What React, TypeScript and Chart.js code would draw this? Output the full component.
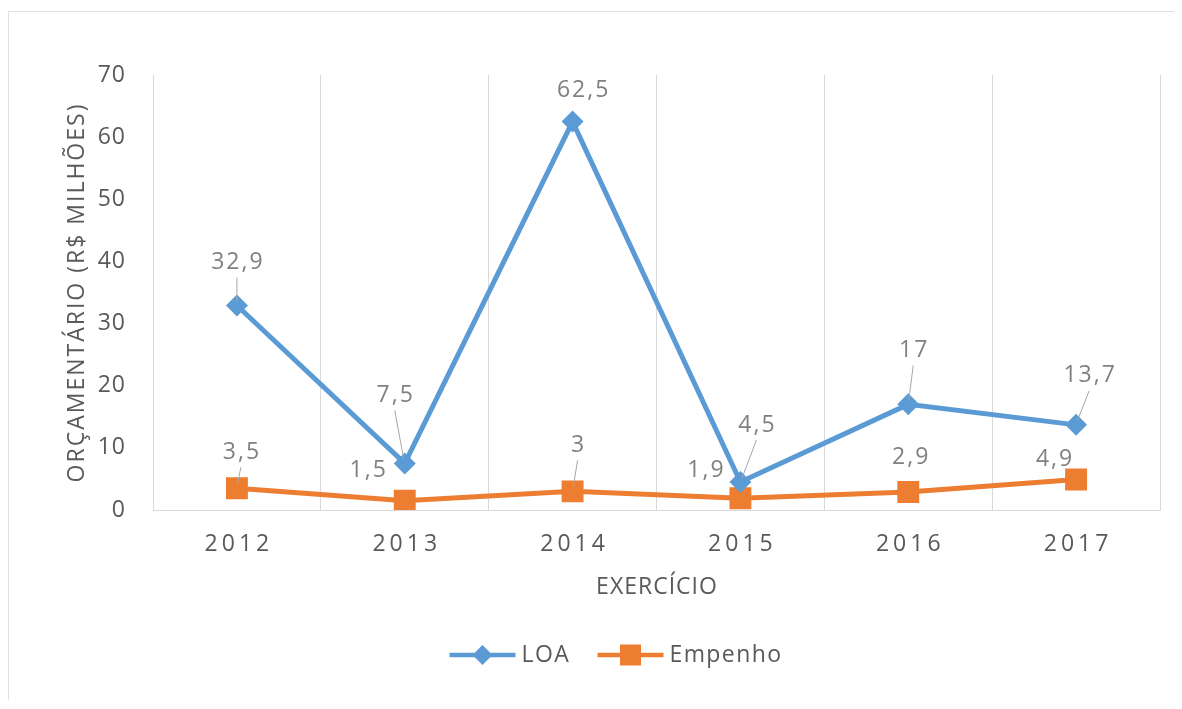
import React, { useEffect, useRef } from 'react';
import { Chart, registerables } from 'chart.js';

Chart.register(...registerables);

const years = ['2012', '2013', '2014', '2015', '2016', '2017'];
const loaValues = [32.9, 7.5, 62.5, 4.5, 17, 13.7];
const empenhoValues = [3.5, 1.5, 3, 1.9, 2.9, 4.9];
const yTicks = [0, 10, 20, 30, 40, 50, 60, 70];
const seriesNames = ['LOA', 'Empenho'];
const yTitle = 'ORÇAMENTÁRIO (R$ MILHÕES)';
const xTitle = 'EXERCÍCIO';

// label placement (dx, dy relative to point, draw leader line)
const loaLabelPos: [number, number, boolean][] = [
  [0, -43, true], [-10, -68, true], [10, -31, false], [16, -57, true], [5, -54, true], [13, -49, true],
];
const empLabelPos: [number, number, boolean][] = [
  [4, -36, true], [-37, -30, false], [5, -46, true], [-35, -28, false], [2, -35, false], [-22, -20, false],
];

const BLUE = '#5b9bd5';
const ORANGE = '#ed7d31';
const TEXT = '#595959';
const LABEL = '#808080';
const GRID = '#d9d9d9';
const FONT = '"Open Sans", sans-serif';
const FS = 23;

const fmt = (v: number) => String(v).replace('.', ',');

function wrap(scale: any, method: string, ls: string, shift: number) {
  const key = '__w_' + method;
  if (scale[key]) return;
  const orig = scale[method];
  scale[method] = function (...args: any[]) {
    const c = this.ctx;
    c.save();
    c.letterSpacing = ls;
    c.translate(shift, 0);
    orig.apply(this, args);
    c.restore();
  };
  scale[key] = true;
}

const labelsPlugin = {
  id: 'pointLabels',
  beforeDraw(chart: any) {
    chart.ctx.letterSpacing = '1.5px';
    const xs = chart.scales.x;
    const ys = chart.scales.y;
    if (xs) {
      wrap(xs, 'drawLabels', '4px', 2);
      wrap(xs, 'drawTitle', '1px', 0.5);
    }
    if (ys) {
      wrap(ys, 'drawTitle', '2px', 0);
      wrap(ys, 'drawLabels', '1px', 0);
    }
  },
  afterDatasetsDraw(chart: any) {
    const ctx = chart.ctx;
    const positions = [loaLabelPos, empLabelPos];
    chart.data.datasets.forEach((ds: any, di: number) => {
      const meta = chart.getDatasetMeta(di);
      meta.data.forEach((pt: any, i: number) => {
        const [dx, dy, leader] = positions[di][i];
        const lx = pt.x + dx;
        const ly = pt.y + dy;
        ctx.save();
        if (leader) {
          ctx.strokeStyle = '#a6a6a6';
          ctx.lineWidth = 1;
          ctx.beginPath();
          ctx.moveTo(lx, ly + 15);
          ctx.lineTo(pt.x + (lx - pt.x) * 0.1, pt.y - 4);
          ctx.stroke();
        }
        ctx.letterSpacing = '2px';
        ctx.font = `${FS}px ${FONT}`;
        ctx.fillStyle = LABEL;
        ctx.textAlign = 'center';
        ctx.textBaseline = 'middle';
        ctx.fillText(fmt(ds.data[i]), lx + 1, ly);
        ctx.restore();
      });
    });
  },
  afterDraw(chart: any) {
    const ctx = chart.ctx;
    const y = 643;
    const start = chart.width / 2 - 146;
    const items = [
      { x: start, color: BLUE, style: 'diamond', text: seriesNames[0] },
      { x: start + 148, color: ORANGE, style: 'square', text: seriesNames[1] },
    ];
    ctx.save();
    items.forEach((it) => {
      ctx.strokeStyle = it.color;
      ctx.lineWidth = 4.5;
      ctx.beginPath();
      ctx.moveTo(it.x, y);
      ctx.lineTo(it.x + 66, y);
      ctx.stroke();
      ctx.fillStyle = it.color;
      const cx = it.x + 33;
      if (it.style === 'diamond') {
        ctx.beginPath();
        ctx.moveTo(cx, y - 10);
        ctx.lineTo(cx + 10, y);
        ctx.lineTo(cx, y + 10);
        ctx.lineTo(cx - 10, y);
        ctx.closePath();
        ctx.fill();
      } else {
        ctx.fillRect(cx - 10.5, y - 10.5, 21, 21);
      }
      ctx.letterSpacing = '1.4px';
      ctx.font = `${FS}px ${FONT}`;
      ctx.fillStyle = TEXT;
      ctx.textAlign = 'left';
      ctx.textBaseline = 'middle';
      ctx.fillText(it.text, it.x + 72, y);
    });
    ctx.restore();
  },
};

export default function App() {
  const ref = useRef<HTMLCanvasElement | null>(null);
  useEffect(() => {
    document.documentElement.style.overflow = 'hidden';
    if (!ref.current) return;
    const chart = new Chart(ref.current, {
      type: 'line',
      data: {
        labels: years,
        datasets: [
          {
            label: seriesNames[0],
            data: loaValues,
            borderColor: BLUE,
            backgroundColor: BLUE,
            borderWidth: 5,
            pointStyle: 'rectRot',
            pointRadius: 11,
            pointHoverRadius: 11,
            pointBorderWidth: 0,
            tension: 0,
          },
          {
            label: seriesNames[1],
            data: empenhoValues,
            borderColor: ORANGE,
            backgroundColor: ORANGE,
            borderWidth: 5,
            pointStyle: 'rect',
            pointRadius: 15.5,
            pointHoverRadius: 15.5,
            pointBorderWidth: 0,
            tension: 0,
          },
        ],
      },
      options: {
        responsive: false,
        animation: false,
        events: [],
        layout: { padding: { left: 0, right: 22, top: 63, bottom: 92 } },
        plugins: {
          legend: { display: false },
          tooltip: { enabled: false },
        },
        scales: {
          x: {
            offset: true,
            grid: { display: true, offset: true, color: GRID, lineWidth: 1, drawTicks: false },
            border: { display: true, color: GRID, width: 1 },
            ticks: { color: TEXT, font: { family: FONT, size: FS }, padding: 21, maxRotation: 0 },
            title: {
              display: true,
              text: xTitle,
              color: TEXT,
              font: { family: FONT, size: FS },
              padding: { top: 0, bottom: 9 },
            },
            afterFit(scale: any) {
              scale.height = 100;
            },
          },
          y: {
            min: 0,
            max: 70,
            afterBuildTicks(scale: any) {
              scale.ticks = yTicks.map((v) => ({ value: v }));
            },
            grid: { display: false, drawTicks: false },
            border: { display: false },
            ticks: { color: TEXT, font: { family: FONT, size: FS }, padding: 27 },
            title: {
              display: true,
              text: yTitle,
              color: TEXT,
              font: { family: FONT, size: FS },
              padding: { top: 55, bottom: 0 },
            },
            afterFit(scale: any) {
              scale.width = 144;
            },
          },
        },
      },
      plugins: [labelsPlugin],
    });
    return () => chart.destroy();
  }, []);

  return (
    <div
      style={{
        position: 'relative',
        top: 3,
        width: 1174,
        height: 691,
        borderTop: '1px solid #e0e0e0',
        borderLeft: '1px solid #e0e0e0',
        background: '#fff',
      }}
    >
      <canvas ref={ref} width={1173} height={690} style={{ display: 'block' }} />
    </div>
  );
}
